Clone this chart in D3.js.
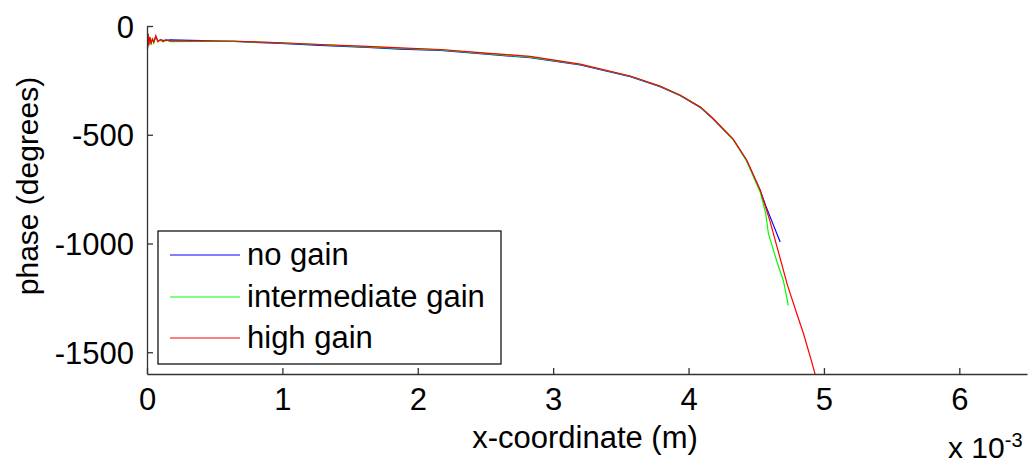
<!DOCTYPE html>
<html>
<head>
<meta charset="utf-8">
<script src="https://cdn.jsdelivr.net/npm/d3@7"></script>
<style>
  body { margin: 0; background: #fff; }
  text { font-family: "Liberation Sans", Arial, sans-serif; }
</style>
</head>
<body>
<div id="chart"></div>
<script>
// phase vs x-coordinate (x in units of 1e-3 m)

var seriesNames = ["no gain", "intermediate gain", "high gain"];
var seriesColors = ["#0000ff", "#00ff00", "#ff0000"];

// shared start (noisy spikes near x = 0)
var startX = [0, 0.004, 0.008, 0.012, 0.02, 0.03, 0.04, 0.05, 0.065, 0.08, 0.1, 0.12, 0.14, 0.17];
var startY = [-15, -105, -35, -90, -50, -80, -60, -75, -45, -72, -62, -70, -64, -68];

// no gain
var noGainX = [0.17, 0.64, 0.99, 1.28, 1.63, 1.87, 2.17, 2.46, 2.83, 3.2, 3.57, 3.79, 3.94, 4.09, 4.18, 4.33, 4.43, 4.53, 4.57, 4.63, 4.677];
var noGainY = [-68, -71, -80, -89, -98, -106, -112, -127, -146, -179, -233, -279, -321, -376, -427, -522, -619, -757, -826, -920, -993];

// intermediate gain
var interX = [0.17, 0.64, 0.99, 1.28, 1.63, 1.87, 2.17, 2.46, 2.83, 3.2, 3.57, 3.79, 3.94, 4.09, 4.18, 4.33, 4.43, 4.53, 4.57, 4.59, 4.65, 4.70, 4.737];
var interY = [-68, -70, -78, -86, -96, -103, -110, -125, -143, -177, -231, -277, -319, -374, -426, -523, -622, -765, -863, -955, -1078, -1170, -1285];

// high gain
var highX = [0.17, 0.64, 0.99, 1.28, 1.63, 1.87, 2.17, 2.46, 2.83, 3.2, 3.57, 3.79, 3.94, 4.09, 4.18, 4.33, 4.43, 4.53, 4.60, 4.677, 4.73, 4.80, 4.85, 4.90, 4.94];
var highY = [-68, -70, -77, -85, -94, -101, -108, -122, -140, -175, -230, -276, -318, -373, -424, -520, -617, -755, -894, -1069, -1190, -1323, -1416, -1523, -1612];

var xTicks = [0, 1, 2, 3, 4, 5, 6];
var yTicks = [0, -500, -1000, -1500];

var margin = {left: 147, top: 26, right: 9, bottom: 89};
var totalWidth = 1036, totalHeight = 463;
var width = totalWidth - margin.left - margin.right;
var height = totalHeight - margin.top - margin.bottom;
var fontSize = 31;

function zipXY(xs, ys) {
    return xs.map(function(d, i) { return {x: d, y: ys[i]}; });
}
var series = [
    startX.map(function(d, i) { return {x: d, y: startY[i] + (i % 2 ? 4 : -3)}; }).concat(zipXY(noGainX, noGainY).slice(1)),
    startX.map(function(d, i) { return {x: d, y: startY[i] + (i % 3 ? -4 : 3)}; }).concat(zipXY(interX, interY).slice(1)),
    zipXY(startX, startY).concat(zipXY(highX, highY).slice(1))
];

var x = d3.scaleLinear().domain([0, 6.5]).range([0, width]);
var y = d3.scaleLinear().domain([-1600, 0]).range([height, 0]);

var svg = d3.select("#chart").append("svg")
    .attr("width", totalWidth)
    .attr("height", totalHeight)
  .append("g")
    .attr("transform", "translate(" + margin.left + "," + margin.top + ")");

svg.append("clipPath").attr("id", "plotclip")
  .append("rect").attr("x", 0).attr("y", -2).attr("width", width).attr("height", height + 2);

var line = d3.line()
    .x(function(d) { return x(d.x); })
    .y(function(d) { return y(d.y); });

svg.append("g").attr("clip-path", "url(#plotclip)")
  .selectAll("path").data(series).enter().append("path")
    .attr("d", line)
    .attr("fill", "none")
    .attr("stroke", function(d, i) { return seriesColors[i]; })
    .attr("stroke-width", 1.2);

// axes, ticks pointing inwards
var xAxis = d3.axisBottom(x).tickValues(xTicks).tickSizeInner(-6).tickSizeOuter(0).tickFormat(d3.format("d"));
var yAxis = d3.axisLeft(y).tickValues(yTicks).tickSizeInner(-6).tickSizeOuter(0).tickFormat(function(d) { return d < 0 ? "-" + Math.abs(d) : d; });

var gx = svg.append("g")
    .attr("transform", "translate(0," + height + ")")
    .call(xAxis);
gx.selectAll("text").attr("y", 14).attr("dy", "0.72em");

var gy = svg.append("g").call(yAxis);
gy.selectAll("text").attr("x", -13).attr("dy", "0.36em");

svg.selectAll(".domain, .tick line").attr("stroke", "#333").attr("stroke-width", 1.3);
svg.selectAll(".tick text").attr("fill", "#000").style("font-size", fontSize + "px")
    .style("font-family", "'Liberation Sans', Arial, sans-serif");

// axis labels
svg.append("text")
    .attr("x", 438).attr("y", 422)
    .attr("text-anchor", "middle")
    .style("font-size", fontSize + "px")
    .text("x-coordinate (m)");

svg.append("text")
    .attr("transform", "translate(-109," + 160 + ") rotate(-90)")
    .attr("text-anchor", "middle")
    .style("font-size", "30px")
    .text("phase (degrees)");

var expo = svg.append("text")
    .attr("x", 801).attr("y", 432)
    .style("font-size", "30px");
expo.append("tspan").text("x 10");
expo.append("tspan").attr("dy", -11).style("font-size", "20px").text("-3");

// legend
var legend = svg.append("g").attr("transform", "translate(11,205)");
legend.append("rect")
    .attr("width", 343).attr("height", 133)
    .attr("fill", "#fff").attr("stroke", "#000").attr("stroke-width", 1.2);

var rows = legend.selectAll("g.row").data(seriesNames).enter().append("g")
    .attr("class", "row")
    .attr("transform", function(d, i) { return "translate(0," + [24, 66, 107][i] + ")"; });
rows.append("line")
    .attr("x1", 12).attr("x2", 82)
    .attr("stroke", function(d, i) { return seriesColors[i]; })
    .attr("stroke-width", 1.2);
rows.append("text")
    .attr("x", 89).attr("y", 10)
    .style("font-size", fontSize + "px")
    .text(function(d) { return d; });
</script>
</body>
</html>
